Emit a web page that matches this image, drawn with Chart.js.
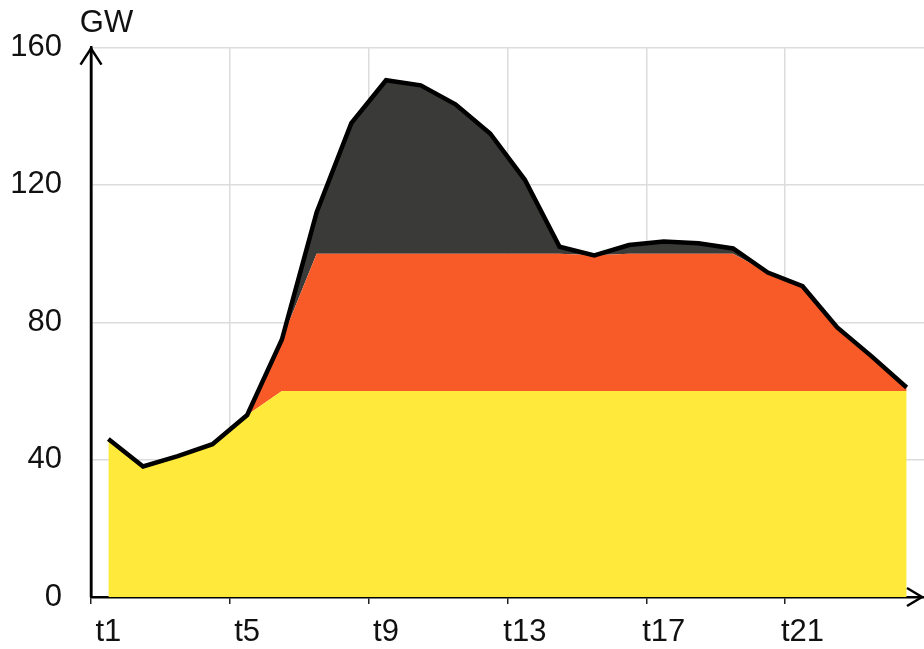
<!DOCTYPE html>
<html>
<head>
<meta charset="utf-8">
<script src="https://cdn.jsdelivr.net/npm/chart.js@4/dist/chart.umd.min.js"></script>
<style>
  html, body { margin: 0; padding: 0; background: #fff; }
  #wrap { width: 924px; height: 649px; }
</style>
</head>
<body>
<div id="wrap"><canvas id="c" width="924" height="649"></canvas></div>
<script>
// ---- data (GW) ----
const categories = ['t1','t2','t3','t4','t5','t6','t7','t8','t9','t10','t11','t12',
                    't13','t14','t15','t16','t17','t18','t19','t20','t21','t22','t23','t24'];
const baseLayer = [46, 38, 41, 44.5, 53, 60, 60, 60, 60, 60, 60, 60,
                   60, 60, 60, 60, 60, 60, 60, 60, 60, 60, 60, 60];
const midLayer  = [0, 0, 0, 0, 0, 15, 40, 40, 40, 40, 40, 40,
                   40, 40, 39.5, 40, 40, 40, 40, 34.5, 30.5, 18.5, 10, 1];
const peakLayer = [0, 0, 0, 0, 0, 0, 12, 38, 50.5, 49, 43.5, 35,
                   21.5, 2, 0, 2.5, 3.5, 3, 1.5, 0, 0, 0, 0, 0];
const yTicks = [0, 40, 80, 120, 160];
const yUnit = 'GW';

const COL_BASE = '#FFE93B';
const COL_MID  = '#F95B28';
const COL_PEAK = '#3A3A38';
const GRID = '#dcdcdc';
const FONT = 'Arial, "Liberation Sans", sans-serif';
const FSIZE = 31;

const cumMid = baseLayer.map((v, i) => v + midLayer[i]);
const total = cumMid.map((v, i) => v + peakLayer[i]);

const arrowPlugin = {
  id: 'arrows',
  afterDraw(chart) {
    const ctx = chart.ctx;
    const a = chart.chartArea;
    const x0 = a.left, y0 = chart.scales.y.getPixelForValue(0);
    const yTop = chart.scales.y.getPixelForValue(160);
    ctx.save();
    ctx.strokeStyle = '#000';
    ctx.lineWidth = 2.5;
    ctx.lineCap = 'butt';
    ctx.lineJoin = 'miter';
    // y arrow
    ctx.beginPath();
    ctx.moveTo(x0, y0);
    ctx.lineTo(x0, yTop);
    ctx.stroke();
    ctx.beginPath();
    ctx.moveTo(x0 - 10.5, yTop + 17);
    ctx.lineTo(x0, yTop + 1);
    ctx.lineTo(x0 + 10.5, yTop + 17);
    ctx.stroke();
    // x arrow
    const xt = a.right - 2;
    ctx.beginPath();
    ctx.moveTo(xt - 15, y0 - 9);
    ctx.lineTo(xt, y0);
    ctx.lineTo(xt - 15, y0 + 9);
    ctx.stroke();
    // unit label
    ctx.fillStyle = '#111';
    ctx.font = FSIZE + 'px ' + FONT;
    ctx.textAlign = 'center';
    ctx.textBaseline = 'alphabetic';
    ctx.fillText(yUnit, x0 + 15.5, 32);
    ctx.restore();
  }
};

new Chart(document.getElementById('c'), {
  type: 'line',
  data: {
    labels: categories,
    datasets: [
      { data: baseLayer, backgroundColor: COL_BASE, borderWidth: 0, pointRadius: 0, fill: 'origin', order: 1 },
      { data: cumMid, backgroundColor: COL_MID, borderWidth: 0, pointRadius: 0, fill: '-1', order: 1 },
      { data: total, backgroundColor: COL_PEAK, borderWidth: 0, pointRadius: 0, fill: '-1', order: 1 },
      { data: total, borderColor: '#000', borderWidth: 4.5, pointRadius: 0, fill: false, order: 0, borderJoinStyle: 'miter' }
    ]
  },
  options: {
    responsive: false,
    animation: false,
    layout: { padding: { top: 44, right: 0, left: 0, bottom: 0 } },
    plugins: { legend: { display: false }, tooltip: { enabled: false } },
    scales: {
      x: {
        type: 'category',
        offset: true,
        afterFit(s) { s.height = 52; },
        grid: {
          offset: true,
          drawTicks: true,
          tickLength: 7,
          lineWidth: 1.5,
          tickWidth: 1.5,
          color: (ctx) => (ctx.index % 4 === 0 ? GRID : 'rgba(0,0,0,0)'),
          tickColor: (ctx) => (ctx.index % 4 === 0 ? '#222' : 'rgba(0,0,0,0)')
        },
        border: { display: true, color: '#000', width: 2.5 },
        ticks: {
          autoSkip: false,
          maxRotation: 0,
          padding: 10,
          color: '#111',
          font: { size: FSIZE, family: FONT },
          callback: (v, i) => (i % 4 === 0 ? categories[i] : '')
        }
      },
      y: {
        min: yTicks[0],
        max: yTicks[yTicks.length - 1],
        afterFit(s) { s.width = 91; },
        afterBuildTicks(s) { s.ticks = yTicks.map(v => ({ value: v })); },
        grid: { color: GRID, lineWidth: 1.5, drawTicks: false },
        border: { display: true, color: '#000', width: 2.5 },
        ticks: {
          padding: 29,
          color: '#111',
          font: { size: FSIZE, family: FONT }
        }
      }
    }
  },
  plugins: [arrowPlugin]
});
</script>
</body>
</html>
